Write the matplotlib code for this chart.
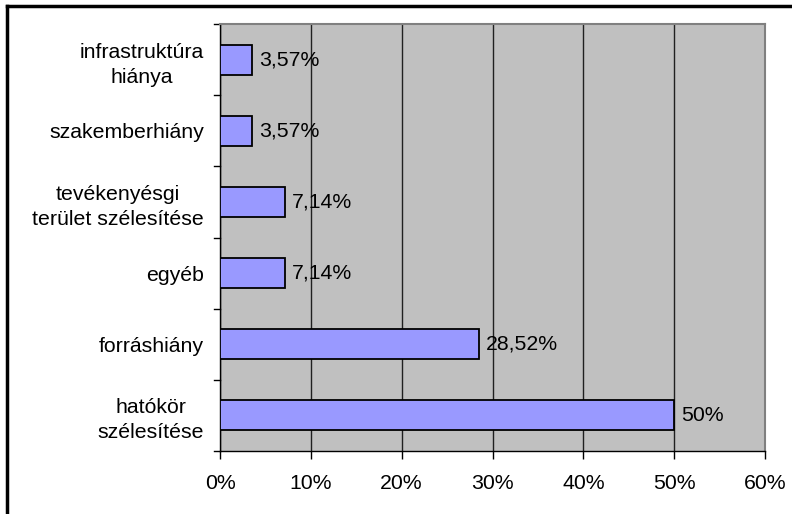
import matplotlib
matplotlib.use("Agg")
import matplotlib.pyplot as plt
from matplotlib.lines import Line2D

categories = ["hatókör\nszélesítése", "forráshiány", "egyéb",
              "tevékenyésgi\nterület szélesítése", "szakemberhiány",
              "infrastruktúra\nhiánya"]
values = [50, 28.52, 7.14, 7.14, 3.57, 3.57]
value_labels = ["50%", "28,52%", "7,14%", "7,14%", "3,57%", "3,57%"]
xticks = [0, 10, 20, 30, 40, 50, 60]
xtick_labels = ["0%", "10%", "20%", "30%", "40%", "50%", "60%"]

plt.rcParams['font.family'] = ['Liberation Sans', 'DejaVu Sans']
fs = 15.3

fig = plt.figure(figsize=(7.92, 5.14), dpi=100)
ax = fig.add_axes([220/792, 1-451/514, (765-220)/792, (451-24)/514])
ax.set_facecolor('#C0C0C0')

y = list(range(len(categories)))
ax.barh(y, values, height=0.42, color='#9999FF', edgecolor='black', linewidth=1.3, zorder=3)
for yi, v, lab in zip(y, values, value_labels):
    ax.annotate(lab, (v, yi), xytext=(5, 0), textcoords='offset points',
                va='center', ha='left', fontsize=fs, zorder=4)

ax.set_xlim(0, 60)
ax.set_ylim(-0.5, len(categories)-0.5)
ax.set_xticks(xticks)
ax.set_xticklabels(xtick_labels, fontsize=fs)
ax.xaxis.grid(True, color='#202020', linewidth=1, zorder=1)
ax.set_axisbelow(True)

ax.set_yticks(y)
ax.set_yticklabels(categories, fontsize=fs, linespacing=1.4)
for t in ax.get_yticklabels():
    t.set_horizontalalignment('right')
    t.set_multialignment('center')
ax.tick_params(axis='y', length=0, pad=11.5)
for yb in [i - 0.5 for i in range(len(categories)+1)]:
    ax.add_line(Line2D([-0.011, 0], [yb, yb], transform=ax.get_yaxis_transform(),
                       color='black', linewidth=1, clip_on=False))
ax.tick_params(axis='x', direction='out', length=6, width=1, pad=10.5)

for s in ['top', 'right']:
    ax.spines[s].set_color('#808080')
    ax.spines[s].set_linewidth(1.5)
for s in ['left', 'bottom']:
    ax.spines[s].set_color('black')
    ax.spines[s].set_linewidth(1)

fig.add_artist(Line2D([7/792, 7/792], [0, 1-6/514], color='black', linewidth=2.5))
fig.add_artist(Line2D([7/792, 1], [1-6/514, 1-6/514], color='black', linewidth=2.5))

fig.savefig('out.png', dpi=100)
